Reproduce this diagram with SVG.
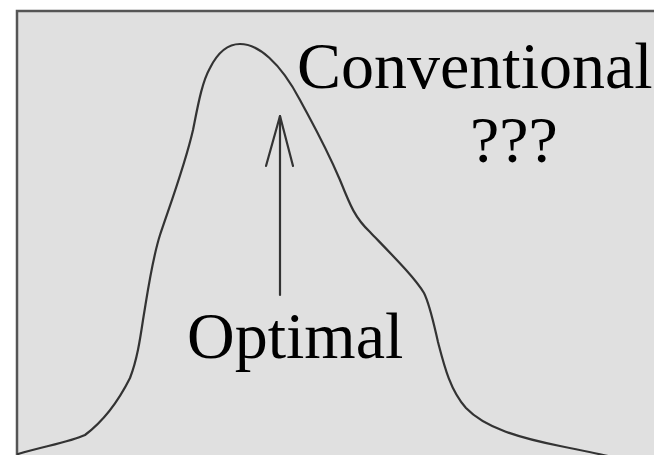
<svg xmlns="http://www.w3.org/2000/svg" width="654" height="455" viewBox="0 0 654 455">
<style>
.lbl{font-family:"Liberation Serif","Times New Roman",serif;font-size:66px;fill:#000}
.ln{fill:none;stroke:#333;stroke-width:2.2;stroke-linecap:round;stroke-linejoin:round}
</style>
<rect width="654" height="455" fill="#fff"/>
<g id="frame">
<rect x="17" y="11" width="660" height="470" fill="#e0e0e0" stroke="#555" stroke-width="2.5"/>
</g>
<g id="curve">
<path class="ln" d="M18,454 C45,446 70,442 85,435 C105,420 120,398 130,378 C137,360 140,340 143,320 C148,290 152,260 160,235 C170,205 185,165 193,130 C198,105 202,82 210,68 C218,52 228,44 240,44 C258,44 280,62 300,100 C315,128 325,145 340,180 C350,205 355,218 370,232 C395,258 415,278 424,293 C430,305 434,325 438,342 C444,365 450,390 466,408 C485,428 520,438 560,446 C585,451 600,454 612,457"/>
</g>
<g id="connectors">
<line class="ln" x1="280" y1="116" x2="280" y2="295"/>
<polyline class="ln" points="266,166 280,116 293,166"/>
</g>
<g id="conventional">
<text class="lbl" x="297" y="88">Conventional</text>
<text class="lbl" x="470" y="162">???</text>
</g>
<g id="optimal">
<text class="lbl" x="187" y="358">Optimal</text>
</g>
</svg>
